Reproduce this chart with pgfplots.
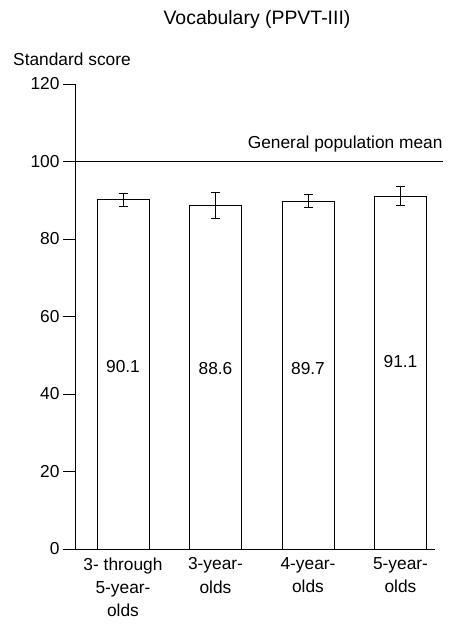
\documentclass[border=0pt]{standalone}
\usepackage{pgfplots}
\pgfplotsset{compat=1.18}
\usepackage{fontspec}
\setmainfont{Liberation Sans}

\begin{document}
\begin{tikzpicture}[font=\fontsize{17.4}{23.5}\selectfont]
\useasboundingbox (-75bp,-75bp) rectangle (374bp,549bp);
\begin{axis}[
  at={(0,0)}, anchor=south west,
  x=92.5bp, y=3.875bp,
  xmin=-0.519, xmax=3.373, ymin=0, ymax=120,
  axis x line=bottom, axis y line=left,
  axis line style={-, line width=0.9bp, black},
  ytick={0,20,...,120},
  tick align=outside,
  major tick length=12bp,
  tick style={line width=0.9bp, black},
  xtick={0,1,2,3},
  xticklabels={3- through\\5-year-\\olds, 3-year-\\olds, 4-year-\\olds, 5-year-\\olds},
  x tick style={draw=none},
  xticklabel style={align=center, yshift=7bp},
  /pgf/number format/assume math mode=true,
  clip=false,
]
% mean scores with error bars
\addplot[ybar, bar width=52bp, fill=white, draw=black, line width=0.9bp,
  error bars/.cd, y dir=both, y explicit,
  error bar style={line width=1bp, black},
  error mark options={rotate=90, mark size=4.5bp, line width=1bp, black}]
  coordinates {
    (0,90.1) +- (0,1.6)
    (1,88.6) +- (0,3.3)
    (2,89.7) +- (0,1.7)
    (3,91.1) +- (0,2.5)
  };
% general population mean
\addplot[black, line width=0.9bp] coordinates {(-0.519,100) (3.459,100)};
\node at (axis cs:0,47.2) {90.1};
\node at (axis cs:1,46.5) {88.6};
\node at (axis cs:2,46.7) {89.7};
\node at (axis cs:3,48.3) {91.1};
\end{axis}
\node[anchor=base, font=\fontsize{19.5}{23}\selectfont] at (182bp,524bp) {Vocabulary (PPVT-III)};
\node[anchor=base west, inner sep=0pt] at (-62bp,483bp) {Standard score};
\node[anchor=base east, inner sep=0pt] at (367.7bp,400bp) {General population mean};
\end{tikzpicture}
\end{document}
